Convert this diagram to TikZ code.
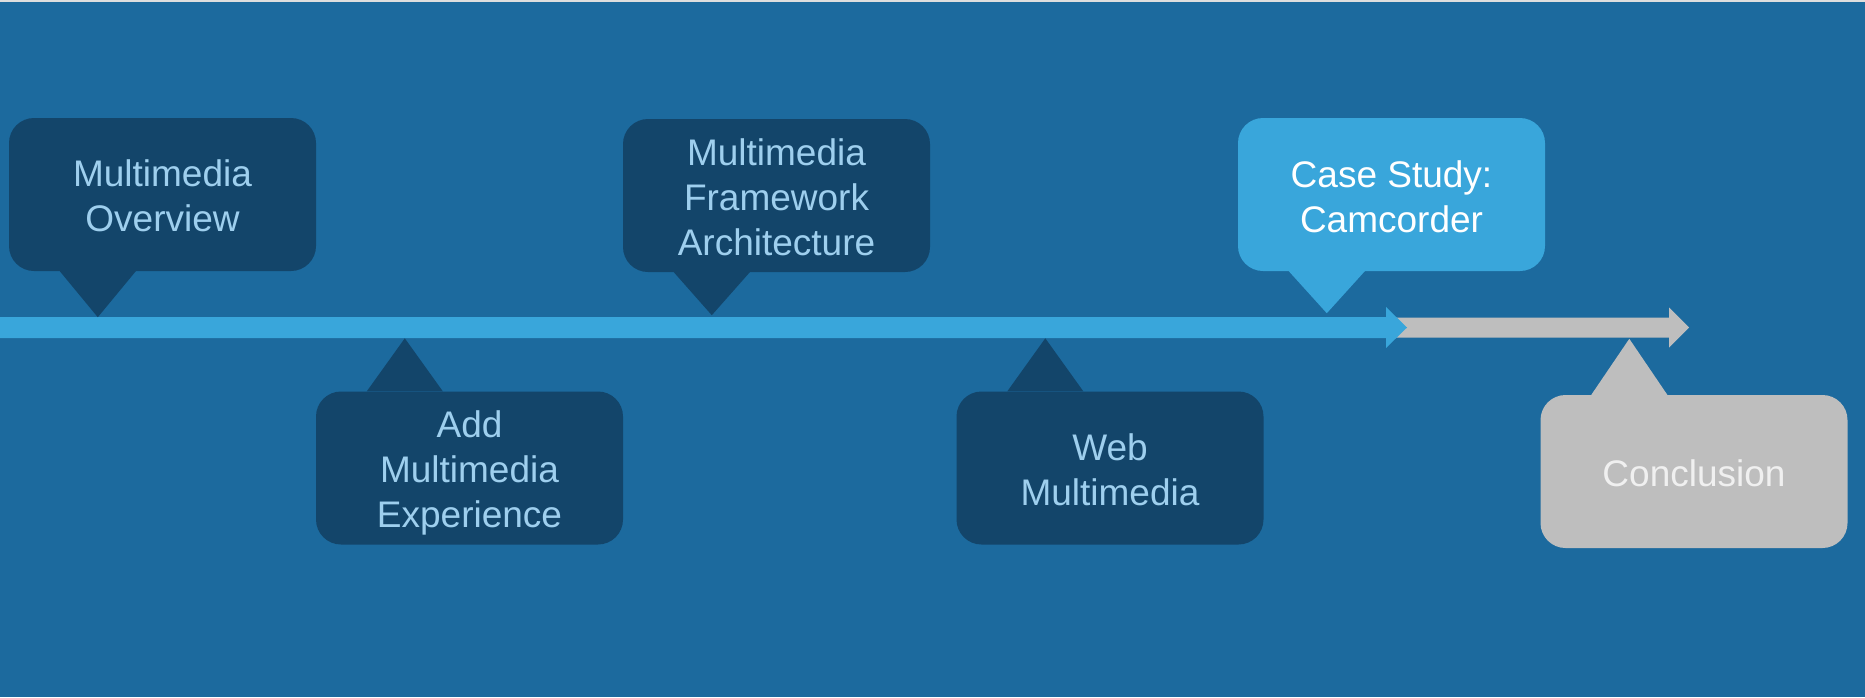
\documentclass[tikz,border=0pt]{standalone}
\usepackage{fontspec}
\setmainfont{Liberation Sans}
\usetikzlibrary{calc}
\definecolor{bgblue}{RGB}{28,106,158}
\definecolor{darkbox}{RGB}{19,69,106}
\definecolor{lightbox}{RGB}{57,166,219}
\definecolor{graybox}{RGB}{190,190,190}
\definecolor{darktext}{RGB}{158,207,238}
\definecolor{grytext}{RGB}{240,240,240}
\definecolor{topline}{RGB}{222,222,222}
\tikzset{
  callout/.style={rounded corners=25pt, minimum width=307pt, minimum height=153pt,
    inner sep=0pt},
  darkcall/.style={callout, fill=darkbox},
  lightcall/.style={callout, fill=lightbox},
  graycall/.style={callout, fill=graybox},
  calltext/.style={inner sep=0pt, align=center, font=\fontsize{37}{45}\selectfont},
}
% #1 node, #2 colour, #3 anchor (south west / north west), #4 signed height
\newcommand\tlpointer[4]{%
  \fill[#2] ($(#1.#3)+(51,0)$) -- ($(#1.#3)+(127,0)$) -- ($(#1.#3)+(89,#4)$) -- cycle;}
\begin{document}
\begin{tikzpicture}[x=1pt,y=-1pt]
\useasboundingbox (0,0) rectangle (1865,697);
\fill[bgblue] (0,0) rectangle (1865,697);
\fill[topline] (0,0) rectangle (1865,2);
% timeline arrows
\coordinate (gstart) at (1395,327.5);
\coordinate (gend) at (1689,327.5);
\coordinate (bstart) at (0,327.5);
\coordinate (bend) at (1407,327.5);
\fill[graybox] ($(gstart)+(0,-10)$) -- ($(gend)+(-20,-10)$) -- ($(gend)+(-20,-20)$) -- (gend)
  -- ($(gend)+(-20,20)$) -- ($(gend)+(-20,10)$) -- ($(gstart)+(0,10)$) -- cycle;
\fill[lightbox] ($(bstart)+(0,-10.5)$) -- ($(bend)+(-21,-10.5)$) -- ($(bend)+(-21,-20.5)$) -- (bend)
  -- ($(bend)+(-21,20.5)$) -- ($(bend)+(-21,10.5)$) -- ($(bstart)+(0,10.5)$) -- cycle;
% callouts
\node[darkcall] (b1) at (162.5,194.5) {};
\tlpointer{b1}{darkbox}{south west}{46}
\node[calltext, text=darktext] (t1) at ($(b1)+(0,1)$) {Multimedia\\Overview};
\node[darkcall] (b2) at (469.5,468) {};
\tlpointer{b2}{darkbox}{north west}{-53}
\node[calltext, text=darktext] (t2) at ($(b2)+(0,5)$) {Add\\Multimedia\\Experience};
\node[darkcall] (b3) at (776.5,195.5) {};
\tlpointer{b3}{darkbox}{south west}{43}
\node[calltext, text=darktext] (t3) at ($(b3)+(0,2)$) {Multimedia\\Framework\\Architecture};
\node[darkcall] (b4) at (1110,468) {};
\tlpointer{b4}{darkbox}{north west}{-53}
\node[calltext, text=darktext] (t4) at ($(b4)+(0,1.5)$) {Web\\Multimedia};
\node[lightcall] (b5) at (1391.5,194.5) {};
\tlpointer{b5}{lightbox}{south west}{42}
\node[calltext, text=white] (t5) at ($(b5)+(0,2)$) {Case Study:\\Camcorder};
\node[graycall] (b6) at (1694,471.5) {};
\tlpointer{b6}{graybox}{north west}{-56}
\node[calltext, text=grytext] (t6) at ($(b6)+(0,2)$) {Conclusion};
\end{tikzpicture}
\end{document}
